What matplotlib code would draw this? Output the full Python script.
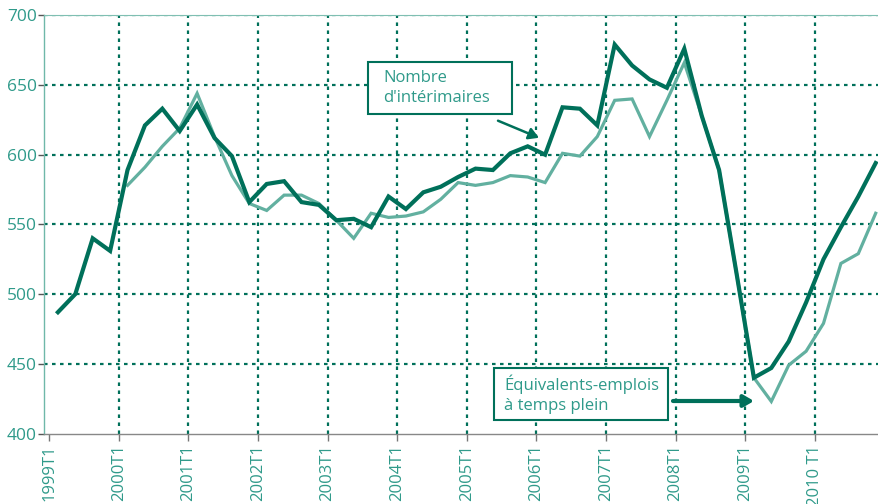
import numpy as np
import matplotlib
matplotlib.use("Agg")
import matplotlib.pyplot as plt
from matplotlib.patches import Rectangle, FancyArrowPatch

plt.rcParams['font.family'] = ['Open Sans', 'DejaVu Sans']

# ---- data ----
years = list(range(1999, 2011))
tick_labels = [f"{y}T1" for y in years[:-1]] + ["2010 T1"]

interimaires = [487, 500, 540, 531, 589, 621, 633, 617, 636, 612, 599, 566,
                579, 581, 566, 564, 553, 554, 548, 570, 561, 573, 577, 584,
                590, 589, 601, 606, 600, 634, 633, 621, 679, 664, 654, 648,
                676, 628, 589, 515, 440, 447, 466, 494, 525, 548, 570, 594]

etp = [np.nan, np.nan, np.nan, np.nan,
       578, 591, 606, 619, 644, 613, 585, 565,
       560, 571, 571, 565, 553, 540, 558, 555, 556, 559, 568, 580,
       578, 580, 585, 584, 580, 601, 599, 613, 639, 640, 613, 639,
       666, 628, 589, 515, 440, 423, 449, 459, 479, 522, 529, 558]

label_nombre = "Nombre\nd'intérimaires"
label_etp = "Équivalents-emplois\nà temps plein"

DARK = '#00705a'
LIGHT = '#62b0a0'
TEXT = '#2f9a8a'
GRID = '#00705a'

W, H = 879, 504
fig = plt.figure(figsize=(W / 100, H / 100), dpi=100)
ax = fig.add_axes([44 / W, (H - 433.5) / H, (W - 44) / W, (433.5 - 15.3) / H])

x = np.arange(len(interimaires))
ax.plot(x, etp, color=LIGHT, lw=2.3, solid_joinstyle='miter', zorder=3)
ax.plot(x, interimaires, color=DARK, lw=3.0, solid_joinstyle='miter', zorder=4)

ax.set_xlim(-0.80, 47.19)
ax.set_ylim(400, 700)

xt = [4 * i - 0.5 for i in range(len(years))]
ax.set_xticks(xt)
ax.set_xticklabels(tick_labels, rotation=90, color=TEXT, fontsize=12)
ax.set_yticks(range(400, 701, 50))
ax.set_yticklabels([str(v) for v in range(400, 701, 50)], color=TEXT, fontsize=12.5)
ax.tick_params(axis='x', length=5, width=1, color='#777777', pad=3)
ax.tick_params(axis='y', length=4, width=1, color='#555555', pad=1)

for xv in xt[1:]:
    ax.axvline(xv, color=GRID, lw=1.6, ls=(0, (1.6, 2.0)), zorder=1)
for yv in range(450, 701, 50):
    ax.axhline(yv, color=GRID, lw=1.6, ls=(0, (1.6, 2.0)), zorder=1)

ax.spines['right'].set_visible(False)
ax.spines['top'].set_color('#7fbfb2')
ax.spines['top'].set_linewidth(0.8)
ax.spines['left'].set_color('#6fb8a9')
ax.spines['left'].set_linewidth(1.0)
ax.spines['bottom'].set_color('#888888')
ax.spines['bottom'].set_linewidth(1.0)


def fp(px, py):
    return (px / W, (H - py) / H)


def box(x0, y0, x1, y1):
    r = Rectangle(fp(x0, y1), (x1 - x0) / W, (y1 - y0) / H, transform=fig.transFigure,
                  facecolor='white', edgecolor=DARK, lw=1.5, zorder=10)
    fig.add_artist(r)


box(367.7, 61.7, 511.7, 114.3)
fig.text(*fp(383, 88), label_nombre, color=TEXT, fontsize=12, va='center', ha='left',
         linespacing=1.35, zorder=11)
box(494.3, 368.3, 667.7, 420)
fig.text(*fp(504, 394), label_etp, color=TEXT, fontsize=12, va='center', ha='left',
         linespacing=1.35, zorder=11)

a1 = FancyArrowPatch(fp(498, 120.7), fp(539, 137.8), transform=fig.transFigure,
                     arrowstyle='-|>,head_length=6,head_width=3.5', color=DARK, lw=1.8,
                     shrinkA=0, shrinkB=0, zorder=12)
fig.add_artist(a1)
a2 = FancyArrowPatch(fp(673, 401), fp(754, 401), transform=fig.transFigure,
                     arrowstyle='-|>,head_length=6,head_width=3.5', color=DARK, lw=3.0,
                     shrinkA=0, shrinkB=0, zorder=12)
fig.add_artist(a2)

fig.savefig('out.png', dpi=100)
